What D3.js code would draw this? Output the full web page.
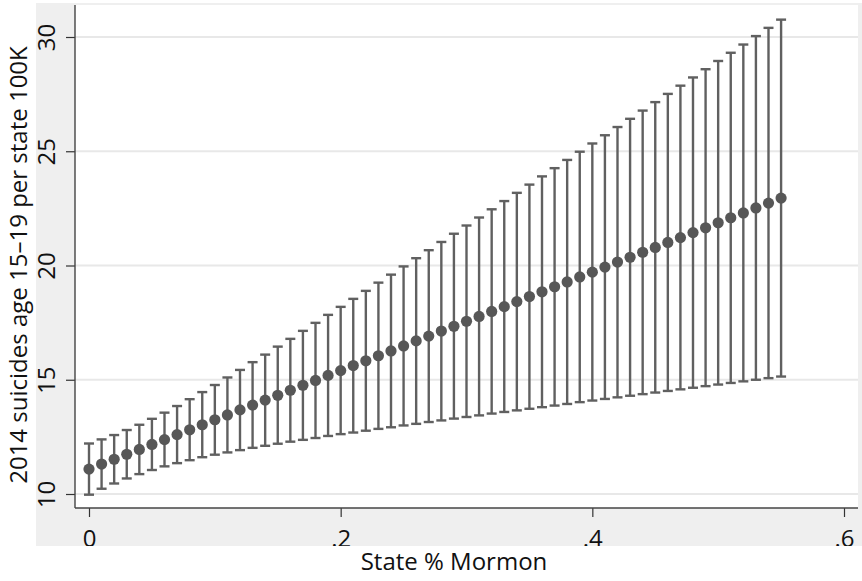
<!DOCTYPE html>
<html lang="en">
<head>
<meta charset="UTF-8">
<title>Suicides vs State % Mormon</title>
<script src="https://d3js.org/d3.v7.min.js"></script>
<style>
  body { margin: 0; background: #fff; }
  svg text { font-family: "Open Sans", "Noto Sans", sans-serif; fill: #111; }
</style>
</head>
<body>
<div id="chart"></div>
<script>
// predicted values (margins) with 95% CI
const mormon = [0, .01, .02, .03, .04, .05, .06, .07, .08, .09,
  .10, .11, .12, .13, .14, .15, .16, .17, .18, .19,
  .20, .21, .22, .23, .24, .25, .26, .27, .28, .29,
  .30, .31, .32, .33, .34, .35, .36, .37, .38, .39,
  .40, .41, .42, .43, .44, .45, .46, .47, .48, .49,
  .50, .51, .52, .53, .54, .55];
const predicted = [11.09, 11.31, 11.52, 11.74, 11.95, 12.17, 12.38, 12.60, 12.81, 13.03,
  13.25, 13.46, 13.68, 13.89, 14.11, 14.32, 14.54, 14.76, 14.97, 15.19,
  15.40, 15.62, 15.83, 16.05, 16.26, 16.48, 16.70, 16.91, 17.13, 17.34,
  17.56, 17.77, 17.99, 18.20, 18.42, 18.64, 18.85, 19.07, 19.28, 19.50,
  19.71, 19.93, 20.15, 20.36, 20.58, 20.79, 21.01, 21.22, 21.44, 21.65,
  21.87, 22.09, 22.30, 22.52, 22.73, 22.95];
const lower = [9.97, 10.23, 10.46, 10.68, 10.87, 11.05, 11.21, 11.35, 11.48, 11.61,
  11.72, 11.82, 11.92, 12.02, 12.11, 12.20, 12.29, 12.37, 12.45, 12.54,
  12.62, 12.69, 12.77, 12.85, 12.92, 13.00, 13.07, 13.15, 13.22, 13.30,
  13.37, 13.44, 13.52, 13.59, 13.66, 13.73, 13.80, 13.87, 13.94, 14.02,
  14.09, 14.16, 14.23, 14.30, 14.37, 14.44, 14.51, 14.58, 14.65, 14.72,
  14.79, 14.86, 14.93, 15.00, 15.07, 15.14];
const upper = [12.21, 12.39, 12.58, 12.80, 13.03, 13.29, 13.56, 13.85, 14.15, 14.46,
  14.77, 15.10, 15.43, 15.77, 16.10, 16.45, 16.79, 17.14, 17.49, 17.84,
  18.19, 18.54, 18.89, 19.25, 19.60, 19.96, 20.32, 20.67, 21.03, 21.39,
  21.75, 22.10, 22.46, 22.82, 23.18, 23.54, 23.90, 24.26, 24.62, 24.98,
  25.34, 25.70, 26.06, 26.42, 26.78, 27.15, 27.51, 27.87, 28.23, 28.59,
  28.95, 29.31, 29.67, 30.04, 30.40, 30.76];

const xTicks = [0, .2, .4, .6];
const xTickLabels = ["0", ".2", ".4", ".6"];
const yTicks = [10, 15, 20, 25, 30];

const W = 862, H = 581;
const plot = { left: 75, right: 858, top: 5, bottom: 508 };

const svg = d3.select("#chart").append("svg")
    .attr("width", W)
    .attr("height", H);

// graph region is cut off at the bottom, the axis title sits below it
svg.append("clipPath").attr("id", "region")
  .append("rect").attr("x", 36).attr("y", 0).attr("width", W - 36).attr("height", 546);

const g = svg.append("g").attr("clip-path", "url(#region)");

g.append("rect")
    .attr("x", 36).attr("y", 3)
    .attr("width", W - 36).attr("height", 543)
    .attr("fill", "#efefef");

g.append("rect")
    .attr("x", plot.left).attr("y", plot.top)
    .attr("width", plot.right - plot.left).attr("height", plot.bottom - plot.top)
    .attr("fill", "#fff");

const x = d3.scaleLinear().domain([0, .6]).range([89, 844]);
const y = d3.scaleLinear().domain([10, 30]).range([494, 37]);

// gridlines
g.append("g")
  .selectAll("line")
  .data(yTicks)
  .join("line")
    .attr("x1", plot.left).attr("x2", plot.right)
    .attr("y1", d => y(d)).attr("y2", d => y(d))
    .attr("stroke", "#e8e8e8")
    .attr("stroke-width", 1.8);

// y axis
const yAxis = g.append("g")
    .attr("transform", `translate(${plot.left},0)`)
    .call(d3.axisLeft(y).tickValues(yTicks).tickSize(9).tickSizeOuter(0).tickPadding(0));
yAxis.select(".domain").remove();
yAxis.selectAll(".tick line").attr("stroke", "#333").attr("stroke-width", 1.2);
yAxis.selectAll(".tick text")
    .attr("x", null).attr("dy", null)
    .attr("text-anchor", "middle")
    .attr("transform", "translate(-20,0) rotate(-90)")
    .style("font-size", "24px")
    .style("font-family", "'Open Sans', sans-serif")
    .attr("fill", "#111");
yAxis.append("line")
    .attr("x1", 0).attr("x2", 0)
    .attr("y1", plot.top).attr("y2", plot.bottom)
    .attr("stroke", "#444").attr("stroke-width", 1.4);

// x axis
const xAxis = g.append("g")
    .attr("transform", `translate(0,${plot.bottom})`)
    .call(d3.axisBottom(x).tickValues(xTicks)
      .tickFormat((d, i) => xTickLabels[i])
      .tickSize(9).tickSizeOuter(0).tickPadding(4));
xAxis.select(".domain").remove();
xAxis.selectAll(".tick line").attr("stroke", "#333").attr("stroke-width", 1.2);
xAxis.selectAll(".tick text")
    .attr("dy", null)
    .attr("y", 39)
    .style("font-size", "24px")
    .style("font-family", "'Open Sans', sans-serif")
    .attr("fill", "#111");
xAxis.append("line")
    .attr("x1", plot.left).attr("x2", plot.right)
    .attr("y1", 0).attr("y2", 0)
    .attr("stroke", "#444").attr("stroke-width", 1.4);

// confidence intervals
const rows = mormon.map((m, i) => ({ m, p: predicted[i], lo: lower[i], hi: upper[i] }));
const capW = 5;

const ci = g.append("g").attr("stroke", "#606060").attr("stroke-width", 2.4);
ci.selectAll(".bar")
  .data(rows)
  .join("line")
    .attr("class", "bar")
    .attr("x1", d => x(d.m)).attr("x2", d => x(d.m))
    .attr("y1", d => y(d.lo)).attr("y2", d => y(d.hi));
ci.selectAll(".capHi")
  .data(rows)
  .join("line")
    .attr("class", "capHi")
    .attr("x1", d => x(d.m) - capW).attr("x2", d => x(d.m) + capW)
    .attr("y1", d => y(d.hi)).attr("y2", d => y(d.hi));
ci.selectAll(".capLo")
  .data(rows)
  .join("line")
    .attr("class", "capLo")
    .attr("x1", d => x(d.m) - capW).attr("x2", d => x(d.m) + capW)
    .attr("y1", d => y(d.lo)).attr("y2", d => y(d.lo));

// point estimates
g.append("g")
  .selectAll("circle")
  .data(rows)
  .join("circle")
    .attr("cx", d => x(d.m))
    .attr("cy", d => y(d.p))
    .attr("r", 5.6)
    .attr("fill", "#575757");

// axis titles
svg.append("text")
    .attr("transform", "translate(27,265) rotate(-90)")
    .attr("text-anchor", "middle")
    .style("font-size", "24px")
    .text("2014 suicides age 15\u201319 per state 100K");

svg.append("text")
    .attr("x", 454).attr("y", 570)
    .attr("text-anchor", "middle")
    .style("font-size", "24px")
    .text("State % Mormon");
</script>
</body>
</html>
